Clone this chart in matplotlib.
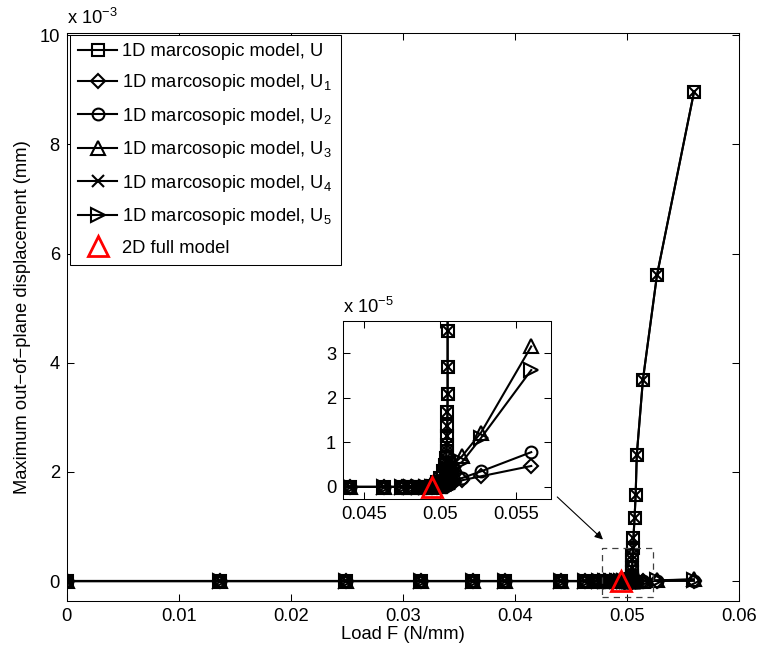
import matplotlib
matplotlib.use("Agg")
import matplotlib.pyplot as plt
from matplotlib.ticker import FixedLocator, FuncFormatter
from matplotlib.patches import Rectangle

plt.rcParams['font.family'] = ['Liberation Sans', 'DejaVu Sans']
plt.rcParams['mathtext.fontset'] = 'custom'
plt.rcParams['mathtext.rm'] = 'Liberation Sans'
plt.rcParams['mathtext.it'] = 'Liberation Sans:italic'

FS = 13.2

# Load steps of the 1D model (N/mm)
load_F = [0.0, 0.0137, 0.0249, 0.0316, 0.0363, 0.0391, 0.0441, 0.0463, 0.0475, 0.0481, 0.0486, 0.0491,
          0.0495, 0.0498, 0.0500, 0.0502, 0.0503, 0.0504, 0.05043, 0.05045, 0.05047, 0.05048, 0.05049,
          0.0505, 0.0505, 0.0505, 0.0505, 0.0505, 0.0505, 0.0505, 0.0505, 0.0505,
          0.0506, 0.0506, 0.0507, 0.0508, 0.0509, 0.05145, 0.0527, 0.0560]

# Maximum out-of-plane displacement (mm)
U = [0, 0, 0, 0, 0, 0, 0, 0, 0, 0, 0, 0,
     0.03e-5, 0.1e-5, 0.2e-5, 0.35e-5, 0.5e-5, 0.65e-5, 0.8e-5, 0.95e-5, 1.14e-5, 1.36e-5, 1.67e-5,
     2.08e-5, 2.68e-5, 3.50e-5, 6.0e-5, 1.0e-4, 1.6e-4, 2.4e-4, 3.8e-4, 4.8e-4,
     6.0e-4, 7.9e-4, 1.15e-3, 1.58e-3, 2.31e-3, 3.69e-3, 5.6e-3, 8.95e-3]
U1 = [0, 0, 0, 0, 0, 0, 0, 0, 0, 0, 0, 0,
      0.0, 0.005e-5, 0.01e-5, 0.015e-5, 0.02e-5, 0.025e-5, 0.03e-5, 0.035e-5, 0.04e-5, 0.045e-5, 0.05e-5,
      0.05e-5, 0.055e-5, 0.06e-5, 0.065e-5, 0.07e-5, 0.07e-5, 0.075e-5, 0.08e-5, 0.08e-5,
      0.085e-5, 0.09e-5, 0.095e-5, 0.1e-5, 0.11e-5, 0.15e-5, 0.24e-5, 0.47e-5]
U2 = [0, 0, 0, 0, 0, 0, 0, 0, 0, 0, 0, 0,
      0.0, 0.007e-5, 0.014e-5, 0.02e-5, 0.027e-5, 0.034e-5, 0.04e-5, 0.047e-5, 0.054e-5, 0.06e-5, 0.066e-5,
      0.07e-5, 0.075e-5, 0.08e-5, 0.085e-5, 0.09e-5, 0.095e-5, 0.1e-5, 0.105e-5, 0.11e-5,
      0.115e-5, 0.12e-5, 0.13e-5, 0.14e-5, 0.15e-5, 0.2e-5, 0.35e-5, 0.78e-5]
U3 = [0, 0, 0, 0, 0, 0, 0, 0, 0, 0, 0, 0,
      0.0, 0.02e-5, 0.04e-5, 0.06e-5, 0.08e-5, 0.1e-5, 0.12e-5, 0.14e-5, 0.16e-5, 0.18e-5, 0.2e-5,
      0.22e-5, 0.24e-5, 0.26e-5, 0.28e-5, 0.3e-5, 0.31e-5, 0.32e-5, 0.34e-5, 0.36e-5,
      0.38e-5, 0.4e-5, 0.44e-5, 0.47e-5, 0.52e-5, 0.69e-5, 1.22e-5, 3.15e-5]
U4 = list(U)
U5 = [0, 0, 0, 0, 0, 0, 0, 0, 0, 0, 0, 0,
      0.0, 0.017e-5, 0.034e-5, 0.05e-5, 0.067e-5, 0.084e-5, 0.1e-5, 0.117e-5, 0.134e-5, 0.15e-5, 0.17e-5,
      0.19e-5, 0.2e-5, 0.22e-5, 0.24e-5, 0.25e-5, 0.26e-5, 0.27e-5, 0.29e-5, 0.3e-5,
      0.32e-5, 0.34e-5, 0.37e-5, 0.4e-5, 0.44e-5, 0.56e-5, 1.10e-5, 2.62e-5]

# 2D full model result
full_F = [0.0495]
full_U = [0.0]

labels = ['1D marcosopic model, U',
          r'1D marcosopic model, U$_{\mathregular{1}}$',
          r'1D marcosopic model, U$_{\mathregular{2}}$',
          r'1D marcosopic model, U$_{\mathregular{3}}$',
          r'1D marcosopic model, U$_{\mathregular{4}}$',
          r'1D marcosopic model, U$_{\mathregular{5}}$']
series = [U, U1, U2, U3, U4, U5]
markers = ['s', 'D', 'o', '^', 'x', '>']
msizes = [8.5, 6.8, 8.5, 9.5, 8.5, 9.5]

W, H = 761, 655
fig = plt.figure(figsize=(W / 100, H / 100), dpi=100)


def draw_series(ax, with_labels):
    for vals, mk, ms, lab in zip(series, markers, msizes, labels):
        ax.plot(load_F, vals, color='k', lw=1.5, marker=mk, ms=ms, mfc='none',
                mec='k', mew=1.5, label=lab if with_labels else None)
    ax.plot(full_F, full_U, ls='none', marker='^', ms=15, mfc='none', mec='red',
            mew=2.0, label='2D full model' if with_labels else None)


def style_axes(ax):
    ax.tick_params(direction='in', top=True, right=True, length=5, width=0.75,
                   labelsize=FS, pad=5)
    for sp in ax.spines.values():
        sp.set_linewidth(0.75)


# main axes
ax = fig.add_axes([66.7 / W, 1 - 601 / H, 672 / W, 568 / H])
draw_series(ax, True)
ax.set_xlim(0, 0.06)
ax.set_ylim(-0.366e-3, 10.04e-3)
ax.xaxis.set_major_locator(FixedLocator([0, 0.01, 0.02, 0.03, 0.04, 0.05, 0.06]))
ax.xaxis.set_major_formatter(FuncFormatter(lambda v, p: '0' if abs(v) < 1e-12 else f'{v:g}'))
ax.yaxis.set_major_locator(FixedLocator([0, 2e-3, 4e-3, 6e-3, 8e-3, 10e-3]))
ax.yaxis.set_major_formatter(FuncFormatter(lambda v, p: f'{round(v * 1e3):d}'))
style_axes(ax)
ax.set_xlabel('Load F (N/mm)', fontsize=FS, labelpad=1)
ax.set_ylabel('Maximum out\u2212of\u2212plane displacement (mm)', fontsize=FS, labelpad=6)
ax.text(0.0, 1.008, r'x 10$^{\mathregular{-3}}$', transform=ax.transAxes,
        fontsize=FS, ha='left', va='bottom')

leg = ax.legend(loc='upper left', bbox_to_anchor=(0.005, 0.997), borderaxespad=0,
                fontsize=FS, handlelength=2.1, handletextpad=0.3, labelspacing=0.68,
                borderpad=0.45, fancybox=False, framealpha=1, edgecolor='k')
leg.get_frame().set_linewidth(0.75)

# zoom region marker
ax.add_patch(Rectangle((0.0478, -0.29e-3), 0.05235 - 0.0478, 0.6e-3 + 0.29e-3,
                       fill=False, ls=(0, (5, 4)), lw=0.9, ec='0.25', zorder=5))
ax.annotate('', xy=(0.04788, 0.76e-3), xytext=(0.0438, 1.54e-3),
            arrowprops=dict(arrowstyle='-|>', color='k', lw=0.8,
                            mutation_scale=12, shrinkA=0, shrinkB=0))

# inset axes
ax2 = fig.add_axes([343 / W, 1 - 499 / H, 208 / W, 178 / H])
draw_series(ax2, False)
ax2.set_xlim(0.04362, 0.0573)
ax2.set_ylim(-0.27e-5, 3.72e-5)
ax2.xaxis.set_major_locator(FixedLocator([0.045, 0.05, 0.055]))
ax2.xaxis.set_major_formatter(FuncFormatter(lambda v, p: f'{v:g}'))
ax2.yaxis.set_major_locator(FixedLocator([0, 1e-5, 2e-5, 3e-5]))
ax2.yaxis.set_major_formatter(FuncFormatter(lambda v, p: f'{round(v * 1e5):d}'))
style_axes(ax2)
ax2.text(0.0, 1.02, r'x 10$^{\mathregular{-5}}$', transform=ax2.transAxes,
         fontsize=FS, ha='left', va='bottom')

fig.savefig('out.png', dpi=100, facecolor='white')
